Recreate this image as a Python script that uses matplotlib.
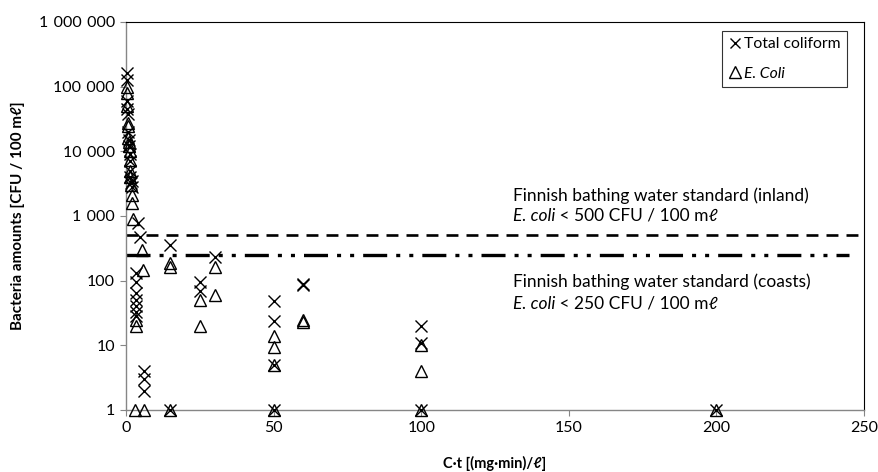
import matplotlib
matplotlib.use("Agg")
import matplotlib.pyplot as plt
from matplotlib.ticker import FixedLocator, FuncFormatter, NullLocator

plt.rcParams['font.family'] = ['Lato', 'DejaVu Sans']
plt.rcParams['lines.scale_dashes'] = False

# Total coliform (x markers)
tc_ct = [0.3, 0.3, 0.5, 0.5, 0.8, 0.8, 1.0, 1.0, 1.2, 1.3, 1.5, 1.5, 1.8, 2.0, 2.2,
         4.0, 4.7, 3.5, 3.5, 3.5, 3.5, 3.5, 3.5, 3.5, 6.0, 6.0, 6.0,
         15, 15, 25, 25, 30, 50, 50, 50, 50, 60, 60, 100, 100, 100, 200]
tc_cfu = [160000, 125000, 60000, 45000, 38000, 20000, 15000, 12000, 9000, 7000, 5000, 4000, 3200, 2800, 3500,
          780, 475, 130, 95, 65, 50, 40, 33, 28, 4, 3, 2,
          350, 1, 95, 68, 230, 48, 24, 5, 1, 90, 85, 20, 11, 1, 1]

# E. coli (triangles)
ec_ct = [0.3, 0.4, 0.5, 0.6, 0.8, 0.8, 1.0, 1.0, 1.2, 1.2, 1.5, 1.5, 1.8, 2.0, 2.0,
         2.4, 5.3, 5.8, 3.5, 3.5, 3.0, 6.0,
         15, 15, 15, 25, 25, 30, 30, 50, 50, 50, 50, 60, 60, 100, 100, 100, 200]
ec_cfu = [100000, 80000, 50000, 27000, 25000, 16000, 14000, 12000, 10000, 7300, 5000, 4000, 3000, 2100, 1600,
          900, 300, 146, 25, 20, 1, 1,
          190, 165, 1, 50, 20, 160, 60, 14, 9.5, 5, 1, 25, 23, 10, 4, 1, 1]

inland_limit = 500
coast_limit = 250
y_ticks = [1, 10, 100, 1000, 10000, 100000, 1000000]

fig = plt.figure(figsize=(8.79, 4.72), dpi=100)
ax = fig.add_axes([0.1433, 0.1314, 0.8397, 0.822])

ax.plot([0, 250], [inland_limit, inland_limit], color='black', lw=1.9,
        linestyle=(0, (8.6, 5.8)), dash_capstyle='butt')
ax.plot([0, 245], [coast_limit, coast_limit], color='black', lw=2.4,
        linestyle=(0, (17.3, 6.5, 2.9, 6.5, 2.9, 6.5)), dash_capstyle='butt')

ax.plot(tc_ct, tc_cfu, linestyle='none', marker='x', ms=8.6, mew=1.0,
        color='black', clip_on=False, label='Total coliform', zorder=4)
ax.plot(ec_ct, ec_cfu, linestyle='none', marker='^', ms=9.0, mew=1.0,
        mfc='none', mec='black', clip_on=False, label='E. Coli', zorder=4)

ax.set_yscale('log')
ax.set_xlim(0, 250)
ax.set_ylim(1, 1000000)
ax.yaxis.set_major_locator(FixedLocator(y_ticks))
ax.yaxis.set_minor_locator(NullLocator())
ax.yaxis.set_major_formatter(FuncFormatter(lambda v, p: f"{int(round(v)):,}".replace(',', '\u2004')))
ax.set_xticks([0, 50, 100, 150, 200, 250])

for s in ['left', 'bottom']:
    ax.spines[s].set_color('#868686')
    ax.spines[s].set_linewidth(1.0)
for s in ['top', 'right']:
    ax.spines[s].set_color('black')
    ax.spines[s].set_linewidth(0.8)

ax.tick_params(axis='both', colors='#868686', labelcolor='black', labelsize=11.5,
               length=4, width=0.8)
ax.tick_params(axis='y', pad=4)
ax.tick_params(axis='x', pad=4)

ax.set_xlabel('C·t [(mg·min)/ℓ]', fontsize=10.5, fontweight='bold', labelpad=15)
ax.set_ylabel('Bacteria amounts [CFU / 100 mℓ]', fontsize=11, fontweight='bold', labelpad=10)

# standard annotations, italic species name followed by plain text
ax.text(131, 2050, 'Finnish bathing water standard (inland)', fontsize=12.5, va='center')
t1 = ax.text(131, 1000, 'E. coli', fontsize=12.5, style='italic', va='center')
ax.annotate(f' < {inland_limit} CFU / 100 mℓ', xy=(1, 0), xycoords=t1, va='bottom', fontsize=12.5)
ax.text(131, 96, 'Finnish bathing water standard (coasts)', fontsize=12.5, va='center')
t2 = ax.text(131, 44, 'E. coli', fontsize=12.5, style='italic', va='center')
ax.annotate(f' < {coast_limit} CFU / 100 mℓ', xy=(1, 0), xycoords=t2, va='bottom', fontsize=12.5)

leg = ax.legend(loc='upper right', bbox_to_anchor=(0.977, 0.977), borderaxespad=0,
                fontsize=11.3, frameon=True, fancybox=False, edgecolor='black',
                handlelength=0.8, handletextpad=0.2, labelspacing=1.0, borderpad=0.4,
                markerscale=0.9)
leg.get_frame().set_linewidth(0.8)
leg.get_texts()[1].set_style('italic')

fig.savefig('out.png', dpi=100)
